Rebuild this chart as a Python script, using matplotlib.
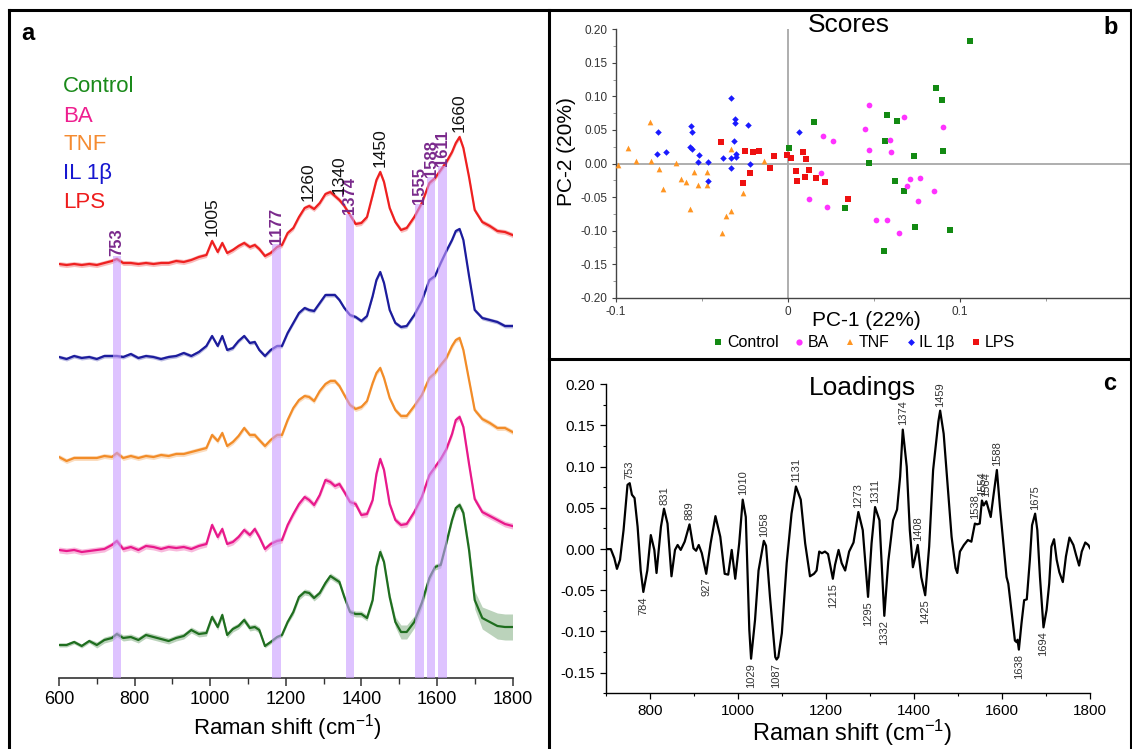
import numpy as np
import matplotlib
matplotlib.use("Agg")
import matplotlib.pyplot as plt
from matplotlib.lines import Line2D
from matplotlib.ticker import MultipleLocator, FixedLocator, FixedFormatter

plt.rcParams['font.family'] = ['Liberation Sans', 'DejaVu Sans']
plt.rcParams['mathtext.default'] = 'regular'

# ---------------- Panel a data: mean Raman spectra (a.u., px-scaled) ----------------
raman_x = [600, 620, 640, 660, 680, 700, 720, 740, 753, 770, 790, 810, 830, 850, 870, 890,
           910, 930, 950, 970, 990, 1005, 1020, 1032, 1045, 1060, 1075, 1090, 1105, 1118,
           1130, 1145, 1160, 1177, 1190, 1205, 1220, 1235, 1250, 1262, 1275, 1290, 1305,
           1318, 1330, 1342, 1355, 1370, 1385, 1400, 1415, 1430, 1440, 1450, 1460, 1475,
           1490, 1505, 1520, 1540, 1560, 1580, 1595, 1610, 1625, 1640, 1650, 1660, 1670,
           1685, 1700, 1720, 1740, 1760, 1780, 1800]

lps_int = [1, 0, 1, 0, 1, 0, 2, 4, 6, 2, 2, 1, 2, 1, 2, 2, 4, 3, 5, 8, 10,
           24, 13, 22, 12, 15, 19, 22, 18, 20, 16, 9, 12, 18, 20, 32, 37, 48, 57, 59, 56,
           62, 71, 73, 69, 65, 59, 50, 41, 42, 48, 70, 85, 93, 83, 57, 43, 35, 37, 48, 62,
           82, 87, 95, 103, 113, 122, 128, 117, 88, 55, 43, 39, 34, 33, 30]
il1b_int = [0, -2, 1, -1, 0, -2, 1, 1, 1, 0, 3, -1, 1, 0, -2, 0, 1, 4, 1, 5, 11,
            21, 11, 21, 7, 9, 16, 21, 14, 15, 7, 1, 7, 11, 11, 24, 34, 44, 49, 47, 46,
            54, 62, 62, 62, 57, 49, 42, 40, 36, 41, 61, 77, 85, 74, 47, 34, 30, 31, 42, 56,
            77, 81, 94, 106, 117, 126, 128, 117, 81, 47, 39, 37, 35, 31, 31]
tnf_int = [1, -3, 0, 0, 0, 0, 2, 1, 5, 0, 2, 0, 2, 1, 3, 2, 4, 4, 6, 8, 10,
           23, 17, 25, 12, 16, 22, 30, 23, 23, 18, 12, 18, 23, 23, 38, 50, 58, 62, 61, 57,
           67, 74, 77, 77, 72, 63, 53, 49, 51, 57, 75, 85, 90, 80, 60, 48, 42, 42, 52, 63,
           80, 85, 93, 100, 112, 118, 120, 108, 78, 48, 39, 35, 30, 30, 26]
ba_int = [1, 0, 1, -1, 0, 1, 2, 6, 10, 2, 4, 1, 5, 4, 2, 4, 3, 4, 2, 5, 7,
          26, 14, 22, 7, 9, 14, 21, 16, 22, 14, 2, 7, 10, 11, 26, 37, 47, 54, 51, 46,
          56, 71, 69, 65, 67, 59, 49, 47, 36, 37, 51, 77, 92, 81, 47, 31, 26, 27, 39, 54,
          76, 84, 92, 102, 117, 131, 134, 124, 87, 52, 39, 35, 31, 27, 25]
control_int = [0, 0, 3, -1, 4, 0, 5, 7, 11, 7, 8, 5, 10, 8, 6, 4, 7, 9, 15, 11, 12,
               28, 18, 30, 10, 16, 19, 25, 17, 18, 15, -1, 3, 8, 10, 23, 33, 48, 53, 52, 47,
               52, 62, 69, 66, 63, 48, 33, 31, 31, 27, 45, 78, 93, 83, 48, 23, 13, 13, 23, 42,
               67, 78, 80, 102, 125, 137, 140, 132, 95, 45, 27, 23, 19, 18, 18]
control_sd = [2, 2, 2, 2, 2, 3, 3, 3, 3, 3, 3, 3, 3, 3, 3, 3, 3, 3, 3, 3, 3,
              3, 3, 3, 3, 3, 3, 3, 3, 3, 3, 2, 2, 2, 2, 2, 3, 3, 3, 3, 3,
              3, 3, 3, 3, 3, 3, 3, 3, 3, 3, 3, 3, 4, 3, 4, 5, 7, 7, 6, 5,
              4, 3, 3, 3, 3, 3, 3, 4, 6, 9, 11, 12, 13, 13, 13]
group_sd = {'LPS': 2.5, 'IL 1β': 2.0, 'TNF': 2.5, 'BA': 3.0}

groups = ['Control', 'BA', 'TNF', 'IL 1β', 'LPS']
line_colors = {'Control': '#1f6e1f', 'BA': '#e8198b', 'TNF': '#f28c28',
               'IL 1β': '#1c1c9c', 'LPS': '#ee2020'}
text_colors = {'Control': '#1a8a1a', 'BA': '#ee1f8f', 'TNF': '#f58b30',
               'IL 1β': '#1717d0', 'LPS': '#ee1c1c'}
offsets = {'Control': 33, 'BA': 127, 'TNF': 220, 'IL 1β': 321, 'LPS': 413}

black_peaks = [1005, 1260, 1340, 1450, 1660]
purple_peaks = [753, 1177, 1374, 1555, 1588, 1611]
purple_lo = [744, 1164, 1359, 1541, 1575, 1604]
purple_hi = [763, 1188, 1381, 1566, 1594, 1626]

# ---------------- Panel b data: PCA scores ----------------
ctrl_pc1 = [0.106, 0.0862, 0.0894, 0.0149, 0.0575, 0.0636, 0.0565, 0.0733, 0.0903, 0.0472,
            0.0004, 0.0623, 0.0677, 0.0332, 0.0737, 0.0942, 0.056]
ctrl_pc2 = [0.183, 0.112, 0.0945, 0.0617, 0.0716, 0.0627, 0.0338, 0.0114, 0.0179, 0.001,
            0.0234, -0.0259, -0.0413, -0.0662, -0.0945, -0.0995, -0.131]
ba_pc1 = [0.0468, 0.0446, 0.0672, 0.0593, 0.0472, 0.0601, 0.0203, 0.0263, 0.0194, 0.0123,
          0.0226, 0.0899, 0.0769, 0.0711, 0.069, 0.0754, 0.0851, 0.0511, 0.0575, 0.0647]
ba_pc2 = [0.0866, 0.0507, 0.0687, 0.0348, 0.0199, 0.0164, 0.0408, 0.0333, -0.0139, -0.0532,
          -0.0642, 0.0547, -0.0214, -0.0234, -0.0338, -0.0557, -0.0413, -0.0841, -0.0841, -0.103]
tnf_pc1 = [-0.0804, -0.0933, -0.0884, -0.0797, -0.0991, -0.075, -0.0728, -0.0649, -0.0625,
           -0.0593, -0.0545, -0.0524, -0.0571, -0.047, -0.047, -0.033, -0.0362, -0.033,
           -0.0384, -0.0261, -0.014]
tnf_pc2 = [0.0612, 0.0234, 0.0035, 0.0035, -0.0015, -0.0075, -0.0373, 0.001, -0.0234,
           -0.0274, -0.0134, -0.0323, -0.0672, -0.0134, -0.0323, 0.0209, -0.0786, -0.0706,
           -0.103, -0.0438, 0.0035]
il_pc1 = [-0.0754, -0.0761, -0.0711, -0.0567, -0.056, -0.0573, -0.0556, -0.0519, -0.0524,
          -0.0463, -0.0463, -0.033, -0.0308, -0.0308, -0.0315, -0.033, -0.0381, -0.0302,
          -0.0302, -0.0334, -0.0233, -0.0222, 0.0065]
il_pc2 = [0.0473, 0.0149, 0.0174, 0.0562, 0.0463, 0.0244, 0.0219, 0.0134, 0.002, 0.002,
          -0.0259, 0.098, 0.0657, 0.0607, 0.0338, 0.008, 0.008, 0.0139, 0.01, -0.007,
          0.0577, 0.0, 0.0473]
lps_pc1 = [-0.0388, -0.0252, -0.0205, -0.0168, -0.0082, -0.0006, 0.0015, 0.0084, 0.0106,
           0.0047, 0.0123, 0.0054, 0.0097, 0.0162, 0.0213, -0.0103, -0.0222, -0.0261, 0.0351]
lps_pc2 = [0.0323, 0.0189, 0.0174, 0.0189, 0.0109, 0.0124, 0.0075, 0.0164, 0.006, -0.0114,
           -0.01, -0.0259, -0.0199, -0.0209, -0.0274, -0.006, -0.0149, -0.0289, -0.0522]

# ---------------- Panel c data: PCA loadings ----------------
load_x = [701, 710, 718, 724, 731, 739, 748, 753, 758, 764, 771, 778, 784, 793, 801, 809, 814,
          824, 831, 839, 848, 856, 862, 869, 878, 889, 898, 904, 910, 917, 927, 937, 948, 959,
          969, 977, 985, 993, 1002, 1010, 1017, 1025, 1029, 1038, 1046, 1058, 1063, 1072,
          1084, 1087, 1091, 1099, 1110, 1121, 1131, 1142, 1152, 1163, 1172, 1178, 1184, 1190,
          1197, 1204, 1215, 1220, 1228, 1235, 1243, 1252, 1262, 1273, 1283, 1295, 1303, 1311,
          1321, 1332, 1341, 1352, 1361, 1368, 1374, 1383, 1390, 1397, 1401, 1408, 1416, 1425,
          1434, 1443, 1449, 1455, 1459, 1467, 1475, 1485, 1494, 1498, 1504, 1513, 1522, 1530,
          1538, 1543, 1549, 1554, 1558, 1564, 1574, 1580, 1588, 1595, 1602, 1610, 1614, 1621,
          1629, 1633, 1635, 1638, 1644, 1650, 1656, 1663, 1668, 1675, 1680, 1686, 1694, 1701,
          1707, 1712, 1718, 1724, 1730, 1738, 1745, 1753, 1762, 1768, 1775, 1781, 1789, 1796,
          1800]
load_y = [0.000, 0.000, -0.011, -0.024, -0.013, 0.023, 0.078, 0.080, 0.066, 0.062, 0.027,
          -0.026, -0.052, -0.026, 0.017, -0.001, -0.029, 0.027, 0.049, 0.031, -0.033, -0.001,
          0.005, -0.001, 0.009, 0.030, 0.001, -0.002, 0.005, -0.005, -0.030, 0.007, 0.040,
          0.015, -0.030, -0.031, -0.001, -0.036, 0.007, 0.060, 0.039, -0.098, -0.133, -0.086,
          -0.026, 0.010, 0.004, -0.058, -0.131, -0.134, -0.131, -0.102, -0.017, 0.043, 0.076,
          0.060, 0.007, -0.033, -0.030, -0.026, -0.003, -0.005, -0.003, -0.006, -0.036,
          -0.019, -0.001, -0.017, -0.026, -0.003, 0.008, 0.045, 0.023, -0.058, 0.007, 0.051,
          0.035, -0.081, -0.015, 0.035, 0.048, 0.088, 0.145, 0.100, 0.023, -0.022, -0.013,
          0.005, -0.034, -0.056, 0.003, 0.096, 0.126, 0.155, 0.168, 0.140, 0.084, 0.015,
          -0.023, -0.029, -0.003, 0.005, 0.011, 0.009, 0.031, 0.030, 0.031, 0.059, 0.053,
          0.058, 0.039, 0.064, 0.096, 0.051, 0.011, -0.034, -0.042, -0.074, -0.111, -0.113,
          -0.110, -0.122, -0.090, -0.062, -0.061, -0.013, 0.029, 0.043, 0.023, -0.034, -0.095,
          -0.074, -0.042, 0.003, 0.012, -0.013, -0.028, -0.040, -0.009, 0.014, 0.005, -0.007,
          -0.020, -0.003, 0.008, 0.005, 0.001]
load_max_labels = [753, 831, 889, 1010, 1058, 1131, 1273, 1311, 1374, 1408, 1459, 1538,
                   1554, 1564, 1588, 1675]
load_min_labels = [784, 927, 1029, 1087, 1215, 1295, 1332, 1425, 1638, 1694]

# ---------------- Figure ----------------
W, H = 1132, 749
fig = plt.figure(figsize=(W / 100, H / 100), dpi=100)
fig.patch.set_facecolor('white')


def box(l, t, r, b):
    return [l / W, 1 - b / H, (r - l) / W, (b - t) / H]


def fline(x0, y0, x1, y1, lw=2.2):
    fig.add_artist(Line2D([x0 / W, x1 / W], [1 - y0 / H, 1 - y1 / H],
                          transform=fig.transFigure, color='black', lw=lw,
                          solid_capstyle='projecting'))


def ftext(x, y, s, **kw):
    fig.text(x / W, 1 - y / H, s, **kw)


# ---------- Panel a ----------
axa = fig.add_axes(box(59, 20, 512.5, 678))
xr = np.array(raman_x)
series = {'Control': control_int, 'BA': ba_int, 'TNF': tnf_int,
          'IL 1β': il1b_int, 'LPS': lps_int}
for g in groups:
    y = offsets[g] + np.array(series[g], dtype=float)
    sd = np.array(control_sd, dtype=float) if g == 'Control' else group_sd[g]
    axa.fill_between(xr, y - sd, y + sd, color=line_colors[g], alpha=0.3, lw=0)
    axa.plot(xr, y, color=line_colors[g], lw=1.6)

lps_abs = offsets['LPS'] + np.array(lps_int, dtype=float)
for c, lo, hi in zip(purple_peaks, purple_lo, purple_hi):
    top = np.interp(c, xr, lps_abs) + 3
    axa.bar(lo, top, width=hi - lo, bottom=0, align='edge', color='#c99cff',
            alpha=0.6, lw=0, zorder=5)
    axa.text((lo + hi) / 2, top, str(c), rotation=90, ha='center', va='bottom',
             fontsize=12, color='#7a2a8c', fontweight='bold', zorder=6)
for c in black_peaks:
    top = np.interp(c, xr, lps_abs) + 5
    axa.text(c, top, str(c), rotation=90, ha='center', va='bottom', fontsize=12.5,
             color='#111111', zorder=6)

axa.set_xlim(600, 1800)
axa.set_ylim(0, 658)
for s in ['left', 'right', 'top']:
    axa.spines[s].set_visible(False)
axa.spines['bottom'].set_color('#333333')
axa.spines['bottom'].set_linewidth(1.2)
axa.set_yticks([])
axa.xaxis.set_major_locator(MultipleLocator(200))
axa.xaxis.set_minor_locator(MultipleLocator(100))
axa.tick_params(axis='x', which='major', length=6, width=1.1, color='#333333',
                labelsize=13, pad=3, direction='out')
axa.tick_params(axis='x', which='minor', length=4, width=1.0, color='#333333',
                direction='out')
axa.patch.set_alpha(0)

ftext(287, 728, 'Raman shift (cm$^{-1}$)', ha='center', va='center', fontsize=16)
for i, g in enumerate(groups):
    ftext(63, 87 + 29 * i, g, ha='left', va='center', fontsize=16, color=text_colors[g])
ftext(21, 33, 'a', ha='left', va='center', fontsize=17, fontweight='bold')

# ---------- Panel b ----------
axb = fig.add_axes(box(616.1, 29.3, 1132, 297.7))
axb.axhline(0, color='#a8a8a8', lw=1.3, zorder=1)
axb.axvline(0, color='#a8a8a8', lw=1.3, zorder=1)
ms = 17
axb.scatter(ctrl_pc1, ctrl_pc2, marker='s', s=ms, color='#138a13', lw=0, zorder=3)
axb.scatter(ba_pc1, ba_pc2, marker='o', s=ms, color='#ff33ff', lw=0, zorder=3)
axb.scatter(tnf_pc1, tnf_pc2, marker='^', s=ms, color='#ff9522', lw=0, zorder=3)
axb.scatter(il_pc1, il_pc2, marker='D', s=11, color='#1a1aff', lw=0, zorder=3)
axb.scatter(lps_pc1, lps_pc2, marker='s', s=ms, color='#ee1111', lw=0, zorder=3)
axb.set_xlim(-0.1, 0.2)
axb.set_ylim(-0.2, 0.2)
for s in ['right', 'top']:
    axb.spines[s].set_visible(False)
for s in ['left', 'bottom']:
    axb.spines[s].set_color('#444444')
    axb.spines[s].set_linewidth(1.0)
axb.xaxis.set_major_locator(FixedLocator([-0.1, 0.0, 0.1]))
axb.xaxis.set_major_formatter(FixedFormatter(['-0.1', '0', '0.1']))
axb.xaxis.set_minor_locator(FixedLocator([-0.05, 0.05, 0.15]))
axb.yaxis.set_major_locator(MultipleLocator(0.05))
axb.yaxis.set_minor_locator(MultipleLocator(0.025))
axb.yaxis.set_major_formatter(matplotlib.ticker.FormatStrFormatter('%.2f'))
axb.tick_params(which='major', length=3, width=0.8, color='#444444', labelsize=8.5,
                labelcolor='#333333', pad=3, direction='out')
axb.tick_params(which='minor', length=2, width=0.6, color='#888888', direction='out')
axb.patch.set_alpha(0)
ftext(566, 152, 'PC-2 (20%)', rotation=90, ha='center', va='center', fontsize=15)
ftext(866, 320, 'PC-1 (22%)', ha='center', va='center', fontsize=15)
ftext(849, 25, 'Scores', ha='center', va='center', fontsize=19)
ftext(1111, 28, 'b', ha='center', va='center', fontsize=17, fontweight='bold')

handles = [
    Line2D([], [], ls='none', marker='s', ms=4.5, color='#138a13', mew=0),
    Line2D([], [], ls='none', marker='o', ms=4.5, color='#ff33ff', mew=0),
    Line2D([], [], ls='none', marker='^', ms=4.5, color='#ff9522', mew=0),
    Line2D([], [], ls='none', marker='D', ms=3.5, color='#1a1aff', mew=0),
    Line2D([], [], ls='none', marker='s', ms=4.5, color='#ee1111', mew=0),
]
fig.legend(handles, groups, ncol=5, loc='center', bbox_to_anchor=(864 / W, 1 - 343 / H),
           frameon=False, fontsize=11.5, handlelength=0.6, handletextpad=0.25,
           columnspacing=1.0, borderpad=0)

# ---------- Panel c ----------
axc = fig.add_axes(box(606.4, 384.3, 1090.1, 693.3))
axc.plot(load_x, load_y, color='black', lw=1.6)
ld = dict(zip(load_x, load_y))
for c in load_max_labels:
    axc.annotate(str(c), (c, ld[c]), xytext=(0, 3), textcoords='offset points',
                 rotation=90, ha='center', va='bottom', fontsize=8, color='#333333')
for c in load_min_labels:
    axc.annotate(str(c), (c, ld[c]), xytext=(0, -3), textcoords='offset points',
                 rotation=90, ha='center', va='top', fontsize=8, color='#333333')
axc.set_xlim(700, 1800)
axc.set_ylim(-0.175, 0.20)
for s in ['right', 'top']:
    axc.spines[s].set_visible(False)
for s in ['left', 'bottom']:
    axc.spines[s].set_linewidth(1.0)
axc.spines['left'].set_bounds(-0.175, 0.20)
axc.xaxis.set_major_locator(MultipleLocator(200))
axc.xaxis.set_minor_locator(MultipleLocator(100))
axc.yaxis.set_major_locator(MultipleLocator(0.05))
axc.yaxis.set_minor_locator(MultipleLocator(0.025))
axc.yaxis.set_major_formatter(matplotlib.ticker.FormatStrFormatter('%.2f'))
axc.tick_params(which='major', length=4, width=0.9, labelsize=11, pad=4, direction='out')
axc.tick_params(which='minor', length=2.5, width=0.8, direction='out')
axc.patch.set_alpha(0)
ftext(852, 733, 'Raman shift (cm$^{-1}$)', ha='center', va='center', fontsize=17)
ftext(862, 388, 'Loadings', ha='center', va='center', fontsize=19)
ftext(1110, 383, 'c', ha='center', va='center', fontsize=17, fontweight='bold')

# ---------- Panel frames ----------
fline(9, 10, 1131, 10)
fline(9, 10, 9, 749)
fline(549, 10, 549, 749)
fline(549, 359, 1131, 359)
fline(1131, 10, 1131, 749)

fig.savefig('out.png', dpi=100, facecolor='white')
